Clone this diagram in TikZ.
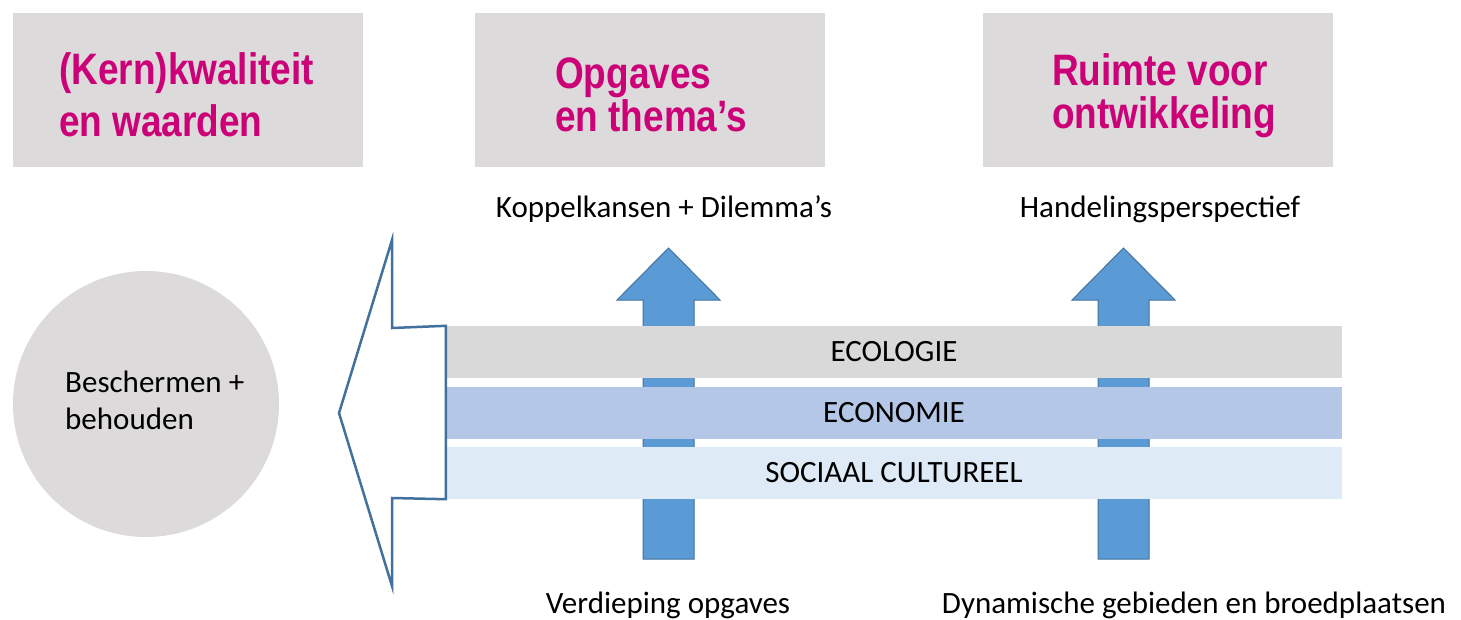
\documentclass[tikz,border=0pt]{standalone}
\usepackage{fontspec}
\setmainfont{Carlito}
\newfontfamily\titlefont[FakeStretch=0.84]{Liberation Sans}
\usepackage{xcolor}

\definecolor{boxgray}{HTML}{DCDADB}
\definecolor{kwal}{HTML}{CC0077}
\definecolor{ecolgray}{HTML}{D9D9D9}
\definecolor{econblue}{HTML}{B4C7E7}
\definecolor{sociblue}{HTML}{DEEBF7}
\definecolor{arrfill}{HTML}{5B9BD5}
\definecolor{arrline}{HTML}{41719C}

\begin{document}
\begin{tikzpicture}
[
x=1pt, y=-1pt,
every node/.style={
	inner sep=0pt,
	font=\fontsize{31}{37}\selectfont},
topBox/.style={
	fill=boxgray,
	minimum width=350pt,
	minimum height=154pt,
	rectangle},
title/.style={
	anchor=base west,
	text=kwal,
	font=\titlefont\bfseries\fontsize{44}{50}\selectfont},
band/.style={
	minimum width=896pt,
	minimum height=52pt,
	rectangle},
upArr/.style={
	fill=arrfill,
	draw=arrline,
	line width=1pt,
	line join=miter},
leftArr/.style={
	fill=white,
	draw=arrline,
	line width=2.5pt,
	line join=miter}
]
\useasboundingbox (0,0) rectangle (1461,619);

%header boxes
\node[topBox] (kern) at (188,90) {};
\node[topBox] (opg) at (650,90) {};
\node[topBox] (ruim) at (1157.5,90) {};

\node[title] (kern1) at (59,84) {(Kern)kwaliteit};
\node[title] (kern2) at (59,136) {en waarden};
\node[title] (opg1) at (555,88) {Opgaves};
\node[title] (opg2) at (555,131) {en thema’s};
\node[title] (ruim1) at (1052,85) {Ruimte voor};
\node[title] (ruim2) at (1052,128) {ontwikkeling};

%labels above and below the up arrows
\node[anchor=base] (kop) at (664,217) {Koppelkansen + Dilemma’s};
\node[anchor=base] (hand) at (1160,217) {Handelingsperspectief};
\node[anchor=base] (verd) at (668,613) {Verdieping opgaves};
\node[anchor=base] (dyn) at (1194,613) {Dynamische gebieden en broedplaatsen};

%circle
\node[circle, fill=boxgray, minimum size=266pt] (besch) at (146,404) {};
\node[anchor=base west, align=left] (beschT) at (65,429) {Beschermen +\\behouden};

%up arrows
\def\shaft{25.5} %half shaft width
\def\head{51.5} %half head width
\foreach \cx/\nm in {668.5/upA, 1123.5/upB}
{
	\coordinate (\nm) at (\cx,559);
	\draw[upArr] (\nm) ++(-\shaft,0) -- ++(0,-259) -- (\cx-\head,300)
		-- (\cx,248) -- (\cx+\head,300) -- (\cx+\shaft,300) -- (\cx+\shaft,559) -- cycle;
}

%bands
\node[band, fill=ecolgray] (ecol) at (894,352) {ECOLOGIE};
\node[band, fill=econblue] (econ) at (894,413) {ECONOMIE};
\node[band, fill=sociblue] (soci) at (894,473) {SOCIAAL CULTUREEL};

%left arrow
\coordinate (tip) at (339,413);
\draw[leftArr] (392,240) -- (392,328) -- (ecol.north west) -- (soci.south west)
	-- (392,498) -- (392,586) -- (tip) -- cycle;

\end{tikzpicture}
\end{document}
